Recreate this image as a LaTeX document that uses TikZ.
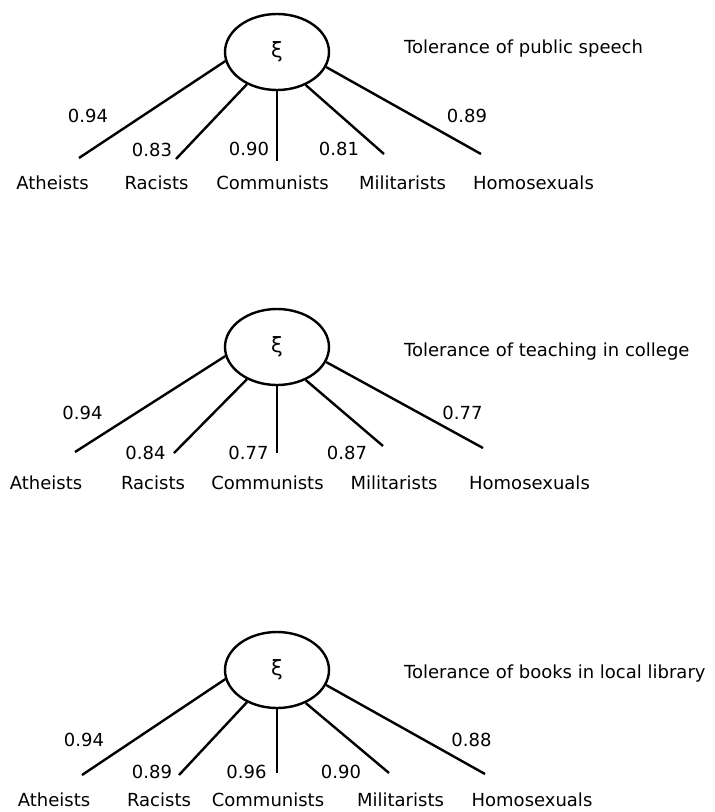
\documentclass[tikz,border=0pt]{standalone}
\usepackage{fontspec}
\setmainfont{DejaVu Sans}
\usetikzlibrary{shapes.geometric}
\begin{document}
\begin{tikzpicture}[x=1pt,y=-1pt,
  every node/.style={font=\fontsize{18}{21}\selectfont, inner sep=0pt},
  latent/.style={ellipse, draw, line width=2.4pt, minimum width=104pt, minimum height=76pt, font=\fontsize{21}{23}\selectfont},
  load/.style={line width=2.4pt},
  lbl/.style={anchor=base},
  ttl/.style={anchor=base west}]
\useasboundingbox (0,0) rectangle (715,812);

% ---------- panel 1 ----------
\node[latent] (e1) at (277,52) {ξ};
\coordinate (a1) at (79,158);
\coordinate (r1) at (176,159);
\coordinate (c1) at (277,161);
\coordinate (m1) at (384,154);
\coordinate (h1) at (481,154);
\draw[load] (e1.190) -- (a1);
\draw[load] (e1.227) -- (r1);
\draw[load] (e1.south) -- (c1);
\draw[load] (e1.311) -- (m1);
\draw[load] (e1.343) -- (h1);
\node[ttl] (t1) at (404,53.5) {Tolerance of public speech};
\node[lbl] (la1) at (52.5,189.5) {Atheists};
\node[lbl] (lr1) at (156.5,189.5) {Racists};
\node[lbl] (lc1) at (272.5,189.5) {Communists};
\node[lbl] (lm1) at (402.5,189.5) {Militarists};
\node[lbl] (lh1) at (533.5,189.5) {Homosexuals};
\node[lbl] (na1) at (88,122.5) {0.94};
\node[lbl] (nr1) at (152,156.5) {0.83};
\node[lbl] (nc1) at (249,155.5) {0.90};
\node[lbl] (nm1) at (339,155.5) {0.81};
\node[lbl] (nh1) at (467,122.5) {0.89};

% ---------- panel 2 ----------
\node[latent] (e2) at (277,347) {ξ};
\coordinate (a2) at (75,452);
\coordinate (r2) at (174,453);
\coordinate (c2) at (277,453);
\coordinate (m2) at (383,446);
\coordinate (h2) at (483,448);
\draw[load] (e2.190) -- (a2);
\draw[load] (e2.227) -- (r2);
\draw[load] (e2.south) -- (c2);
\draw[load] (e2.311) -- (m2);
\draw[load] (e2.343) -- (h2);
\node[ttl] (t2) at (404,356.5) {Tolerance of teaching in college};
\node[lbl] (la2) at (46,489.5) {Atheists};
\node[lbl] (lr2) at (153,489.5) {Racists};
\node[lbl] (lc2) at (267.5,489.5) {Communists};
\node[lbl] (lm2) at (394,489.5) {Militarists};
\node[lbl] (lh2) at (529.5,489.5) {Homosexuals};
\node[lbl] (na2) at (82.5,419.5) {0.94};
\node[lbl] (nr2) at (145.5,459.5) {0.84};
\node[lbl] (nc2) at (248.5,459.5) {0.77};
\node[lbl] (nm2) at (347,459.5) {0.87};
\node[lbl] (nh2) at (462.5,419.5) {0.77};

% ---------- panel 3 ----------
\node[latent] (e3) at (277,670) {ξ};
\coordinate (a3) at (82,775);
\coordinate (r3) at (179,775);
\coordinate (c3) at (277,773);
\coordinate (m3) at (389,773);
\coordinate (h3) at (485,774);
\draw[load] (e3.190) -- (a3);
\draw[load] (e3.227) -- (r3);
\draw[load] (e3.south) -- (c3);
\draw[load] (e3.311) -- (m3);
\draw[load] (e3.343) -- (h3);
\node[ttl] (t3) at (404,678.5) {Tolerance of books in local library};
\node[lbl] (la3) at (54,806.5) {Atheists};
\node[lbl] (lr3) at (159,806.5) {Racists};
\node[lbl] (lc3) at (268,806.5) {Communists};
\node[lbl] (lm3) at (400.5,806.5) {Militarists};
\node[lbl] (lh3) at (532,806.5) {Homosexuals};
\node[lbl] (na3) at (84,746.5) {0.94};
\node[lbl] (nr3) at (152,778.5) {0.89};
\node[lbl] (nc3) at (246.5,778.5) {0.96};
\node[lbl] (nm3) at (341,778.5) {0.90};
\node[lbl] (nh3) at (471.5,746.5) {0.88};
\end{tikzpicture}
\end{document}
